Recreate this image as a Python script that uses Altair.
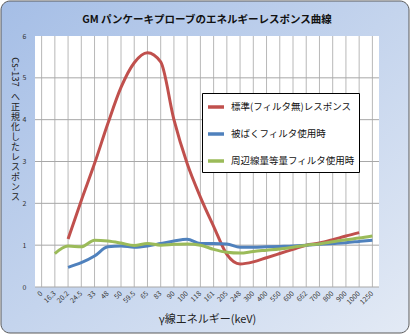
import altair as alt
import pandas as pd

categories = ["0", "16.3", "20.2", "24.5", "33", "48", "50", "59.5", "65", "83", "90",
              "100", "118", "161", "205", "248", "300", "400", "550", "600", "662",
              "700", "800", "900", "1000", "1250"]

series_names = ["標準(フィルタ無)レスポンス", "被ばくフィルタ使用時", "周辺線量等量フィルタ使用時"]
series_colors = ["#c0504d", "#4f81bd", "#9bbb59"]

# values (None = no point)
red_values = [None, None, 1.15, 2.07, 2.95, 3.9, 4.77, 5.36, 5.6, 5.38, 4.0,
              2.95, 2.15, 1.45, 0.78, 0.55, 0.6, 0.7, 0.8, 0.9, 1.0,
              1.05, 1.13, 1.22, 1.3, None]
blue_values = [None, None, 0.47, 0.58, 0.74, 0.96, 0.98, 0.95, 0.98, 1.04, 1.1,
               1.14, 1.04, 1.04, 1.03, 0.95, 0.95, 0.96, 0.97, 0.98, 1.0,
               1.02, 1.04, 1.06, 1.09, 1.12]
green_values = [None, 0.8, 0.98, 0.96, 1.12, 1.1, 1.05, 0.99, 1.04, 1.0, 1.02,
                1.03, 1.0, 0.9, 0.83, 0.81, 0.85, 0.88, 0.91, 0.95, 1.0,
                1.03, 1.08, 1.13, 1.17, 1.22]

y_grid = [0, 1, 2, 3, 4, 5]
y_ticks = [0, 1, 2, 3, 4, 5, 6]

y_title_latin = "Cs-137"
y_title_jp = list("へ正規化したレスポンス")

rows = []
for name, vals in zip(series_names, [red_values, blue_values, green_values]):
    for i, (c, v) in enumerate(zip(categories, vals)):
        if v is not None:
            rows.append({"cat": c, "idx": i, "value": v, "series": name})
df = pd.DataFrame(rows)

W, H = 344, 251
FONT = "Noto Sans CJK JP"

xscale = alt.Scale(domain=categories, padding=0)
yscale = alt.Scale(domain=[0, 6])

x_axis = alt.Axis(title="γ線エネルギー(keV)", labelAngle=-45, labelAlign="right",
                  labelBaseline="middle", labelFontSize=7, labelPadding=5,
                  labelColor="#333333", ticks=False, domain=False, grid=False,
                  titleFontSize=11, titleFontWeight="normal", titleColor="#222222",
                  titleY=32, titleBaseline="middle", labelOverlap=False, zindex=2)
y_axis = alt.Axis(title=y_title_jp, values=y_ticks, labelFontSize=7, labelPadding=9,
                  labelColor="#333333", ticks=False, domain=False, grid=False,
                  titleAngle=0, titleFontSize=9, titleFontWeight="normal",
                  titleLineHeight=10, titleColor="#222222",
                  titleX=-20, titleY=60, titleBaseline="middle", titleAlign="center",
                  zindex=2)

one = pd.DataFrame({"a": [0]})

bg = alt.Chart(one).mark_rect(
    fill=alt.Gradient(gradient="linear", x1=0, y1=0, x2=1, y2=1,
                      stops=[alt.GradientStop(color="#a5bee6", offset=0),
                             alt.GradientStop(color="#c4d4ed", offset=0.5),
                             alt.GradientStop(color="#e3eaf5", offset=1)]),
    stroke="#5a5a5a", strokeWidth=1, cornerRadius=9
).encode(x=alt.value(-34), x2=alt.value(W + 30), y=alt.value(-35), y2=alt.value(H + 46))

plot_bg = alt.Chart(one).mark_rect(fill="white").encode(
    x=alt.value(0), x2=alt.value(W), y=alt.value(0), y2=alt.value(H))

y_title_rot = alt.Chart(pd.DataFrame({"t": [y_title_latin]})).mark_text(
    angle=90, fontSize=9.5, color="#222222", align="center", baseline="middle"
).encode(text="t:N", x=alt.value(-20), y=alt.value(36))

vgrid = alt.Chart(pd.DataFrame({"cat": categories})).mark_rule(
    color="#b8b8b8", strokeWidth=1
).encode(x=alt.X("cat:N", scale=xscale, sort=categories, axis=x_axis))

hgrid = alt.Chart(pd.DataFrame({"value": y_grid})).mark_rule(
    color="#a8a8a8", strokeWidth=1
).encode(y=alt.Y("value:Q", scale=yscale, axis=y_axis))

lines = alt.Chart(df).mark_line(strokeWidth=3, interpolate="monotone").encode(
    x=alt.X("cat:N", scale=xscale, sort=categories, axis=x_axis),
    y=alt.Y("value:Q", scale=yscale, axis=y_axis),
    color=alt.Color("series:N",
                    scale=alt.Scale(domain=series_names, range=series_colors),
                    legend=alt.Legend(title=None, orient="none", legendX=167, legendY=57,
                                      fillColor="white", strokeColor="#000000",
                                      padding=4, rowPadding=10, labelFontSize=9.5,
                                      labelColor="#111111", symbolType="stroke",
                                      symbolStrokeWidth=3.5, symbolSize=256,
                                      labelOffset=5, zindex=2)),
    detail="series:N",
    order="idx:Q",
)

chart = alt.layer(bg, plot_bg, vgrid, hgrid, y_title_rot, lines).properties(
    width=W, height=H,
    title=alt.Title("GM パンケーキプローブのエネルギーレスポンス曲線", fontSize=10.5,
                    fontWeight="bold", color="#111111", anchor="middle", offset=0,
                    dy=25, frame="group", zindex=2),
    autosize=alt.AutoSizeParams(type="none"),
    padding={"left": 35, "top": 36, "right": 32, "bottom": 49},
    background="white",
).configure(font=FONT).configure_view(stroke=None)

chart.save("out.html", embed_options={"renderer": "svg", "actions": False})
